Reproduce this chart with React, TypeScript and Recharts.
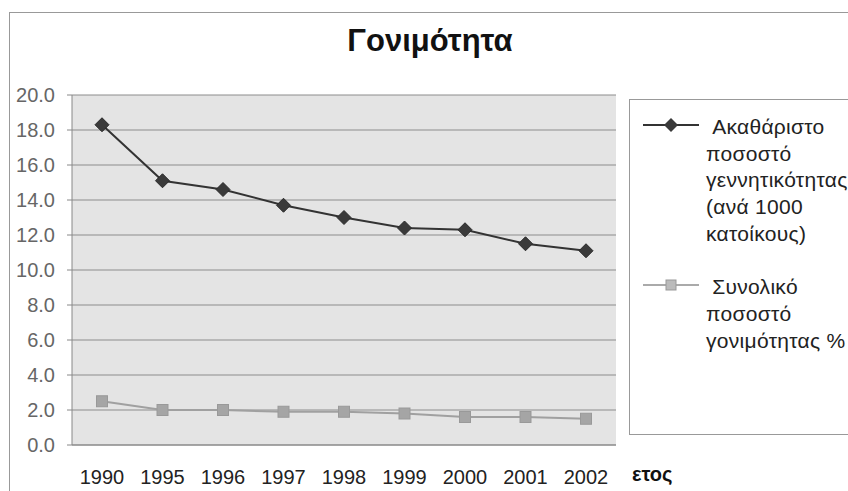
import { LineChart, Line, XAxis, YAxis, CartesianGrid, Legend } from 'recharts';

const years = ['1990', '1995', '1996', '1997', '1998', '1999', '2000', '2001', '2002'];
const birthRate = [18.3, 15.1, 14.6, 13.7, 13.0, 12.4, 12.3, 11.5, 11.1];
const fertilityRate = [2.5, 2.0, 2.0, 1.9, 1.9, 1.8, 1.6, 1.6, 1.5];
const yTicks = [0, 2, 4, 6, 8, 10, 12, 14, 16, 18, 20];

const birthLabel = ['\u00a0Ακαθάριστο', 'ποσοστό', 'γεννητικότητας', '(ανά 1000', 'κατοίκους)'];
const fertilityLabel = ['\u00a0Συνολικό', 'ποσοστό', 'γονιμότητας %'];

const data = years.map((y, i) => ({ year: y, birth: birthRate[i], fertility: fertilityRate[i] }));

const FONT = '"Liberation Sans", Arial, sans-serif';

const Diamond = (props: any) => {
    const { cx, cy } = props;
    if (cx == null || cy == null) return null;
    const r = 7;
    return <path d={`M${cx},${cy - r}L${cx + r},${cy}L${cx},${cy + r}L${cx - r},${cy}Z`} fill="#3a3a3a" stroke="#2a2a2a" strokeWidth={1} />;
};

const Square = (props: any) => {
    const { cx, cy } = props;
    if (cx == null || cy == null) return null;
    const r = 5.5;
    return <rect x={cx - r} y={cy - r} width={r * 2} height={r * 2} fill="#a5a5a5" stroke="#999" strokeWidth={1} />;
};

function LegendBox() {
    const entry = (lines: string[], marker: 'diamond' | 'square') => (
        <div style={{ display: 'flex', alignItems: 'flex-start' }}>
            <svg width={76} height={27} style={{ flex: 'none' }}>
                <line x1={13} x2={69} y1={11} y2={11} stroke={marker === 'diamond' ? '#333' : '#aaa'} strokeWidth={2} />
                {marker === 'diamond'
                    ? <path d="M41,4L48,11L41,18L34,11Z" fill="#3a3a3a" />
                    : <rect x={36} y={6} width={10} height={10} fill="#bbb" stroke="#999" />}
            </svg>
            <div style={{ whiteSpace: 'nowrap' }}>
                {lines.map((l, i) => <div key={i}>{l}</div>)}
            </div>
        </div>
    );
    return (
        <div style={{
            position: 'absolute', left: 629, top: 99, width: 240, height: 336,
            borderLeft: '1px solid #999', borderTop: '1px solid #999', borderBottom: '1px solid #999',
            fontFamily: FONT, fontSize: 21, letterSpacing: 0.3, lineHeight: '26.7px', color: '#222', paddingTop: 14, boxSizing: 'border-box',
        }}>
            {entry(birthLabel, 'diamond')}
            <div style={{ height: 26.7 }} />
            {entry(fertilityLabel, 'square')}
        </div>
    );
}

export default function App() {
    return (
        <div style={{ position: 'absolute', left: 0, top: 0, width: 848, height: 491, overflow: 'hidden', background: '#fff' }}>
            <div style={{ position: 'absolute', left: 9, top: 12, width: 850, height: 490, borderLeft: '1px solid #999', borderTop: '1px solid #999' }} />
            <div style={{ position: 'absolute', left: 0, width: 860, top: 23, textAlign: 'center', fontFamily: FONT, fontWeight: 'bold', fontSize: 31, color: '#111' }}>
                Γονιμότητα
            </div>
            <LineChart width={848} height={491} data={data} margin={{ top: 95, right: 232, left: 0, bottom: 0 }} style={{ position: 'absolute', left: 0, top: 0 }}>
                <CartesianGrid vertical={false} fill="#e4e4e4" stroke="#8c8c8c" strokeWidth={1} />
                <XAxis
                    dataKey="year"
                    height={46}
                    padding={{ left: 30, right: 30 }}
                    tickLine={false}
                    axisLine={{ stroke: '#888' }}
                    tickMargin={19}
                    tick={{ fill: '#222', fontSize: 20, fontFamily: FONT }}
                    interval={0}
                    label={{ value: 'ετος', position: 'right', offset: 16, dy: 6, fill: '#111', fontSize: 20, fontWeight: 'bold', fontFamily: FONT }}
                />
                <YAxis
                    width={72}
                    domain={[0, 20]}
                    ticks={yTicks}
                    interval={0}
                    tickFormatter={(v: number) => v.toFixed(1)}
                    axisLine={{ stroke: '#888' }}
                    tickLine={{ stroke: '#888' }}
                    tickSize={5}
                    tickMargin={12}
                    tick={{ fill: '#666', fontSize: 20, fontFamily: FONT }}
                />
                <YAxis yAxisId="frame" orientation="right" width={0} tick={false} tickLine={false} axisLine={{ stroke: '#bbb' }} />
                <Line dataKey="birth" name={birthLabel.join(' ')} stroke="#333" strokeWidth={2} dot={<Diamond />} activeDot={false} isAnimationActive={false} />
                <Line dataKey="fertility" name={fertilityLabel.join(' ')} stroke="#a0a0a0" strokeWidth={2} dot={<Square />} activeDot={false} isAnimationActive={false} />
                <Legend content={() => <LegendBox />} wrapperStyle={{ position: 'absolute', left: 0, top: 0, width: 0, height: 0 }} />
            </LineChart>
        </div>
    );
}
